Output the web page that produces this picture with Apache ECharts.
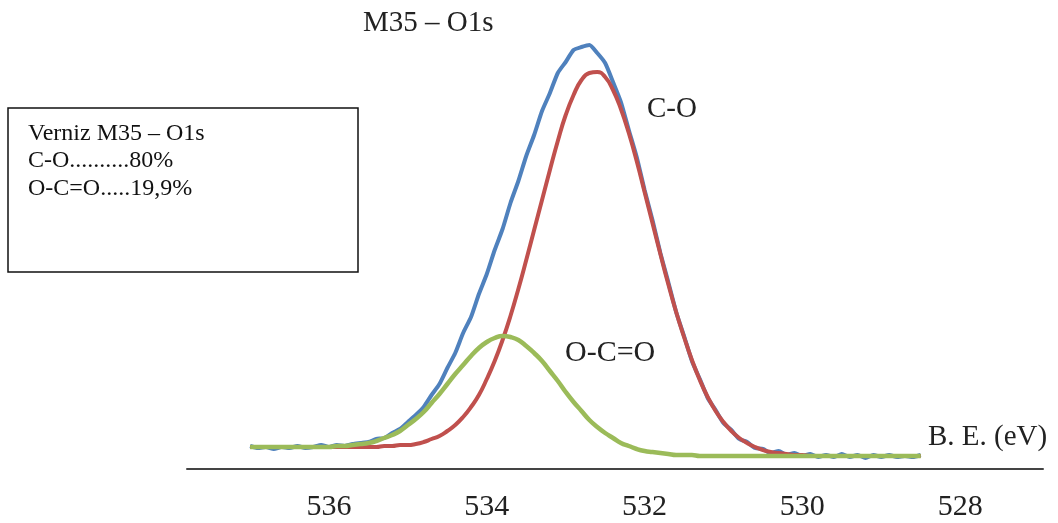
<!DOCTYPE html>
<html>
<head>
<meta charset="utf-8">
<title>M35 - O1s</title>
<script src="https://cdn.jsdelivr.net/npm/echarts@6/dist/echarts.min.js"></script>
<style>
	html, body { margin: 0; padding: 0; background: #fff; }
	#chart { width: 1058px; height: 523px; }
</style>
</head>
<body>
<div id="chart"></div>
<script>
// binding energy (eV), every 0.1 eV
let be = [
	537.0, 536.9, 536.8, 536.7, 536.6, 536.5, 536.4, 536.3, 536.2, 536.1,
	536.0, 535.9, 535.8, 535.7, 535.6, 535.5, 535.4, 535.3, 535.2, 535.1,
	535.0, 534.9, 534.8, 534.7, 534.6, 534.5, 534.4, 534.3, 534.2, 534.1,
	534.0, 533.9, 533.8, 533.7, 533.6, 533.5, 533.4, 533.3, 533.2, 533.1,
	533.0, 532.9, 532.8, 532.7, 532.6, 532.5, 532.4, 532.3, 532.2, 532.1,
	532.0, 531.9, 531.8, 531.7, 531.6, 531.5, 531.4, 531.3, 531.2, 531.1,
	531.0, 530.9, 530.8, 530.7, 530.6, 530.5, 530.4, 530.3, 530.2, 530.1,
	530.0, 529.9, 529.8, 529.7, 529.6, 529.5, 529.4, 529.3, 529.2, 529.1,
	529.0, 528.9, 528.8, 528.7, 528.6, 528.5
];
// measured envelope (blue)
let envelope = [
	23, 21, 22, 20, 22, 21, 23, 21, 22, 24,
	22, 24, 23, 25, 26, 27, 30, 31, 36, 40,
	47, 54, 62, 74, 85, 101, 116, 136, 152, 175,
	195, 219, 240, 266, 288, 313, 334, 358, 376, 396,
	407, 419, 422, 424, 416, 406, 387, 367, 339, 312,
	279, 249, 216, 187, 157, 133, 108, 90, 71, 59,
	46, 39, 30, 27, 21, 20, 16, 18, 14, 16,
	13, 15, 12, 14, 12, 15, 12, 14, 11, 14,
	12, 14, 12, 13, 12, 14
];
// C-O component (red)
let c_o = [
	22, 22, 22, 22, 22, 22, 22, 22, 22, 22,
	22, 22, 22, 22, 22, 22, 22, 23, 23, 24,
	24, 25, 27, 30, 33, 38, 44, 52, 62, 74,
	90, 108, 129, 153, 180, 209, 239, 269, 299, 328,
	354, 374, 389, 396, 397, 392, 379, 360, 336, 308,
	277, 246, 215, 185, 157, 132, 109, 89, 72, 58,
	47, 38, 31, 26, 22, 19, 17, 16, 15, 14,
	14, 13, 13, 13, 13, 13, 13, 13, 13, 13,
	13, 13, 13, 13, 13, 13
];
// O-C=O component (green)
let o_c_o = [
	22, 22, 22, 22, 22, 22, 22, 22, 22, 22,
	22, 23, 23, 24, 25, 26, 28, 31, 34, 38,
	44, 50, 57, 66, 75, 85, 95, 104, 113, 121,
	127, 131, 133, 132, 129, 123, 116, 108, 98, 88,
	77, 67, 58, 49, 42, 36, 31, 26, 23, 20,
	18, 17, 16, 15, 14, 14, 14, 13, 13, 13,
	13, 13, 13, 13, 13, 13, 13, 13, 13, 13,
	13, 13, 13, 13, 13, 13, 13, 13, 13, 13,
	13, 13, 13, 13, 13, 13
];
let tick_labels = [536, 534, 532, 530, 528];
let box_lines = ['Verniz M35 – O1s', 'C-O..........80%', 'O-C=O.....19,9%'];

let serif = "'Liberation Serif', 'Times New Roman', serif";

function pairs(values) {
	return be.map((e, i) => [e, values[i]]);
}

let chart = echarts.init(document.getElementById('chart'), null, { renderer: 'canvas' });
let option = {
	animation: false,
	backgroundColor: '#ffffff',
	grid: { left: 187, right: 15, top: 19, bottom: 54 },
	xAxis: {
		type: 'value',
		inverse: true,
		min: 526.95,
		max: 537.8,
		axisLine: { show: true, lineStyle: { color: '#444', width: 2 } },
		axisTick: { show: false },
		splitLine: { show: false },
		axisLabel: {
			customValues: tick_labels,
			margin: 23,
			color: '#222',
			fontFamily: serif,
			fontSize: 30,
		},
	},
	yAxis: {
		type: 'value',
		min: 0,
		max: 450,
		show: false,
	},
	series: [
		{
			name: 'envelope',
			type: 'line',
			data: pairs(envelope),
			showSymbol: false,
			smooth: 0.2,
			lineStyle: { color: '#4f81bd', width: 4 },
		},
		{
			name: 'C-O',
			type: 'line',
			data: pairs(c_o),
			showSymbol: false,
			smooth: true,
			lineStyle: { color: '#c0504d', width: 4 },
		},
		{
			name: 'O-C=O',
			type: 'line',
			data: pairs(o_c_o),
			showSymbol: false,
			smooth: true,
			lineStyle: { color: '#9bbb59', width: 4.5 },
		},
	],
	graphic: [
		// legend box
		{
			type: 'rect',
			shape: { x: 8, y: 108, width: 350, height: 164 },
			style: { fill: '#fff', stroke: '#111', lineWidth: 1.5 },
		},
		...box_lines.map((t, i) => ({
			type: 'text',
			x: 28,
			y: 133.5 + i * 27.7,
			style: { text: t, fill: '#111', font: `24px ${serif}`, textVerticalAlign: 'middle' },
		})),
		// title and annotations
		{
			type: 'text',
			x: 363,
			y: 23,
			style: { text: 'M35 – O1s', fill: '#222', font: `29px ${serif}`, textVerticalAlign: 'middle' },
		},
		{
			type: 'text',
			x: 647,
			y: 109,
			style: { text: 'C-O', fill: '#222', font: `29px ${serif}`, textVerticalAlign: 'middle' },
		},
		{
			type: 'text',
			x: 565,
			y: 353,
			style: { text: 'O-C=O', fill: '#222', font: `30px ${serif}`, textVerticalAlign: 'middle' },
		},
		{
			type: 'text',
			x: 928,
			y: 437,
			style: { text: 'B. E. (eV)', fill: '#222', font: `29px ${serif}`, textVerticalAlign: 'middle' },
		},
	],
};
chart.setOption(option);
</script>
</body>
</html>
